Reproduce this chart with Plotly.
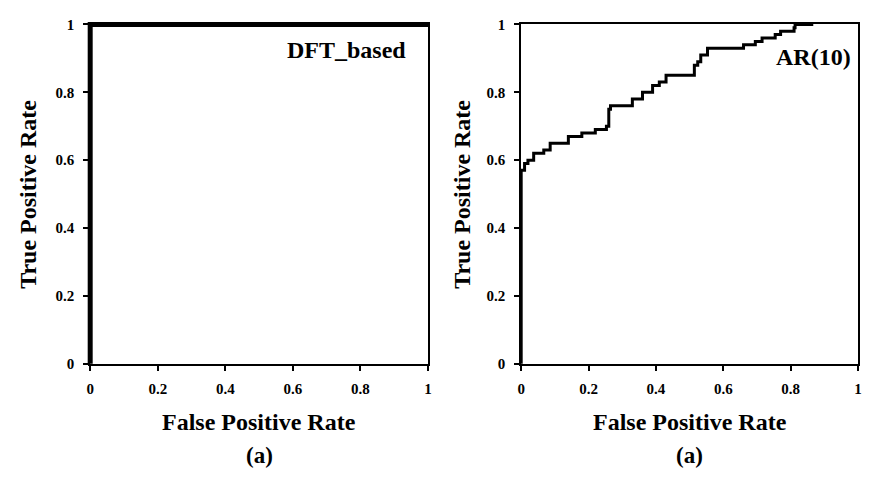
import plotly.graph_objects as go

# ---- data ----
dft_fpr = [0.0, 0.0, 1.0]
dft_tpr = [0.0, 1.0, 1.0]

ar_fpr = [0.0, 0.0, 0.01, 0.02, 0.037, 0.067, 0.086, 0.14, 0.18, 0.22, 0.253, 0.26, 0.265,
          0.33, 0.36, 0.39, 0.41, 0.43, 0.514, 0.524, 0.533, 0.553, 0.66, 0.695, 0.715,
          0.754, 0.77, 0.81, 0.813, 0.867]
ar_tpr = [0.0, 0.57, 0.59, 0.60, 0.62, 0.63, 0.65, 0.67, 0.68, 0.69, 0.70, 0.75, 0.76,
          0.78, 0.80, 0.82, 0.83, 0.85, 0.88, 0.89, 0.91, 0.93, 0.94, 0.95, 0.96,
          0.97, 0.98, 0.99, 1.0, 1.0]

tick_vals = [0, 0.2, 0.4, 0.6, 0.8, 1]
tick_text = ["0", "0.2", "0.4", "0.6", "0.8", "1"]
panel_labels = ["DFT_based", "AR(10)"]
x_title = "False Positive Rate"
y_title = "True Positive Rate"
sub_label = "(a)"

FONT = "Times New Roman, Liberation Serif, serif"
W, H = 870, 479
PAD = 6  # px of extra room so thick curves on the frame are not clipped

# pixel boxes of the two panels
panels = [(87, 428), (522, 862)]
top_px, bot_px = 17, 368

fig = go.Figure()

axis_common = dict(range=[0, 1], tickvals=tick_vals, ticktext=tick_text, showgrid=False,
                   zeroline=False, showline=True, mirror=True, linecolor="black", linewidth=2,
                   ticks="outside", ticklen=5, tickwidth=2, tickcolor="black",
                   tickfont=dict(family=FONT, size=15, color="black", weight="bold"),
                   fixedrange=True, layer="above traces")

ydom = [1 - bot_px / H, 1 - top_px / H]
ph = bot_px - top_px
ydom_d = [1 - (bot_px + PAD) / H, 1 - (top_px - PAD) / H]
yr_d = [-PAD / ph, 1 + PAD / ph]

layout = dict(width=W, height=H, margin=dict(l=0, r=0, t=0, b=0),
              paper_bgcolor="white", plot_bgcolor="rgba(0,0,0,0)")

traces = [(dft_fpr, dft_tpr, 5, "linear"), (ar_fpr, ar_tpr, 3, "hv")]
for i, (x0, x1) in enumerate(panels):
    n = i + 1
    pw = x1 - x0
    xa = "xaxis" if n == 1 else f"xaxis{n}"
    ya = "yaxis" if n == 1 else f"yaxis{n}"
    xid = "x" if n == 1 else f"x{n}"
    yid = "y" if n == 1 else f"y{n}"
    layout[xa] = dict(domain=[x0 / W, x1 / W], anchor=yid, ticklabelstandoff=5, **axis_common)
    layout[ya] = dict(domain=ydom, anchor=xid, ticklabelstandoff=6, **axis_common)
    # empty trace so the framed subplot is created
    fig.add_trace(go.Scatter(x=[], y=[], xaxis=xid, yaxis=yid, showlegend=False))
    # invisible data axes, slightly larger, same scale
    m = n + 2
    layout[f"xaxis{m}"] = dict(domain=[(x0 - PAD) / W, (x1 + PAD) / W],
                               range=[-PAD / pw, 1 + PAD / pw], anchor=f"y{m}",
                               visible=False, fixedrange=True)
    layout[f"yaxis{m}"] = dict(domain=ydom_d, range=yr_d, anchor=f"x{m}",
                               visible=False, fixedrange=True)
    xs, ys, lw, shp = traces[i]
    fig.add_trace(go.Scatter(x=xs, y=ys, mode="lines", xaxis=f"x{m}", yaxis=f"y{m}",
                             line=dict(color="black", width=lw, shape=shp),
                             showlegend=False, hoverinfo="skip"))

fig.update_layout(**layout)

ann = []
label_pos = [(0.94, 0.925), (0.985, 0.905)]
for i, (x0, x1) in enumerate(panels):
    xs = "x" if i == 0 else "x2"
    ys = "y" if i == 0 else "y2"
    cx = (x0 + x1) / 2 / W
    ann.append(dict(x=label_pos[i][0], y=label_pos[i][1],
                    xref=f"{xs} domain", yref=f"{ys} domain", text=panel_labels[i],
                    showarrow=False, xanchor="right", yanchor="middle",
                    font=dict(family=FONT, size=24, color="black", weight="bold")))
    ann.append(dict(x=cx, y=1 - 428 / H, xref="paper", yref="paper", text=x_title,
                    showarrow=False, xanchor="center", yanchor="middle",
                    font=dict(family=FONT, size=24, color="black", weight="bold")))
    ann.append(dict(x=cx, y=1 - 463 / H, xref="paper", yref="paper", text=sub_label,
                    showarrow=False, xanchor="center", yanchor="middle",
                    font=dict(family=FONT, size=23, color="black", weight="bold")))
    yx = 24 / W if i == 0 else 462 / W
    ann.append(dict(x=yx, y=(ydom[0] + ydom[1]) / 2, xref="paper", yref="paper", text=y_title,
                    showarrow=False, xanchor="center", yanchor="middle", textangle=-90,
                    font=dict(family=FONT, size=24, color="black", weight="bold")))
fig.update_layout(annotations=ann)

fig.write_html("out.html")
